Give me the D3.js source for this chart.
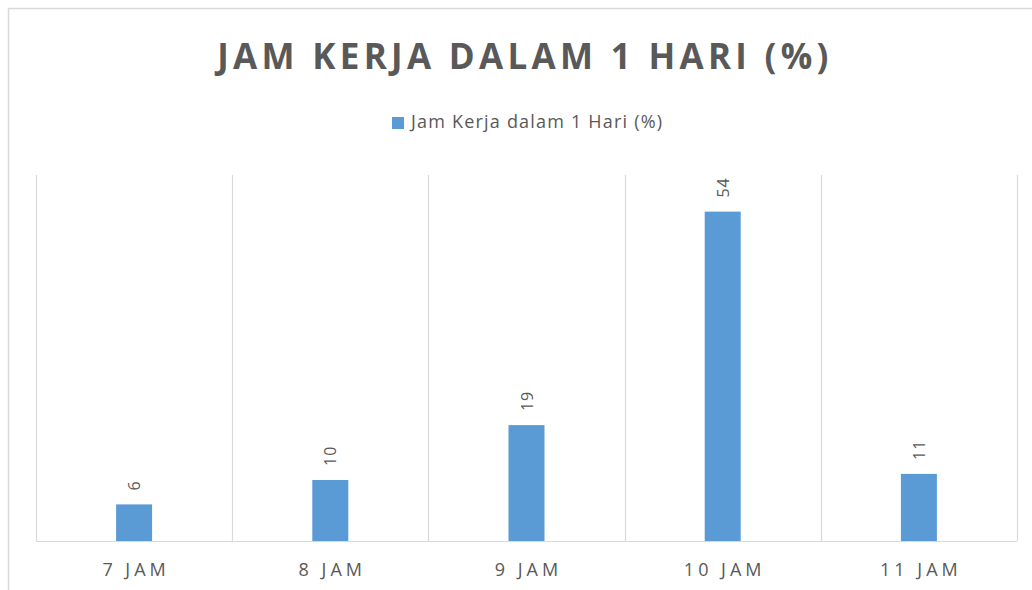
<!DOCTYPE html>
<html>
<head>
<meta charset="utf-8">
<script src="https://cdn.jsdelivr.net/npm/d3@7"></script>
<style>
  body { margin: 0; background: #fff; }
  svg { display: block; }
</style>
</head>
<body>
<div class="chart"></div>
<script>
// data
const categories = ["7 JAM", "8 JAM", "9 JAM", "10 JAM", "11 JAM"];
const values = [6, 10, 19, 54, 11];
const seriesName = "Jam Kerja dalam 1 Hari (%)";
const chartTitle = "JAM KERJA DALAM 1 HARI (%)";

const width = 1032, height = 590;
const margin = { top: 175, right: 15, bottom: 49, left: 36 };

let svg = d3.select(".chart").append("svg")
  .attr("width", width)
  .attr("height", height);

// chart frame (cut off on the right and bottom)
svg.append("rect")
  .attr("x", 8.5).attr("y", 8.5)
  .attr("width", 1040).attr("height", 600)
  .attr("fill", "none")
  .attr("stroke", "#d9d9d9")
  .attr("stroke-width", 1.5);

let x = d3.scaleBand()
  .domain(categories)
  .range([margin.left, width - margin.right]);

let y = d3.scaleLinear()
  .domain([0, 60])
  .range([height - margin.bottom, margin.top]);

// vertical gridlines between categories
let bounds = categories.map(c => x(c)).concat([x.range()[1]]);
svg.append("g")
  .selectAll("line")
  .data(bounds)
  .enter()
  .append("line")
  .attr("x1", d => Math.round(d) + 0.5)
  .attr("x2", d => Math.round(d) + 0.5)
  .attr("y1", y(60))
  .attr("y2", y(0))
  .attr("stroke", "#d9d9d9")
  .attr("stroke-width", 1.2);

// baseline
svg.append("line")
  .attr("x1", x.range()[0]).attr("x2", x.range()[1])
  .attr("y1", y(0) + 0.5).attr("y2", y(0) + 0.5)
  .attr("stroke", "#d9d9d9")
  .attr("stroke-width", 1.2);

// bars
const barW = 36;
svg.append("g")
  .selectAll("rect")
  .data(values)
  .enter()
  .append("rect")
  .attr("x", (d, i) => x(categories[i]) + x.bandwidth() / 2 - barW / 2)
  .attr("y", d => y(d))
  .attr("width", barW)
  .attr("height", d => y(0) - y(d))
  .attr("fill", "#5b9bd5");

// value labels, rotated
svg.append("g")
  .selectAll("text")
  .data(values)
  .enter()
  .append("text")
  .attr("transform", (d, i) => {
    let cx = x(categories[i]) + x.bandwidth() / 2;
    return "translate(" + (cx + 6) + "," + (y(d) - 14) + ") rotate(-90)";
  })
  .attr("font-family", "'Open Sans', sans-serif")
  .attr("font-size", 16)
  .attr("letter-spacing", 1)
  .attr("fill", "#595959")
  .text(d => d);

// x axis labels
svg.append("g")
  .selectAll("text")
  .data(categories)
  .enter()
  .append("text")
  .attr("x", d => x(d) + x.bandwidth() / 2 + 2)
  .attr("y", 576)
  .attr("text-anchor", "middle")
  .attr("font-family", "'Open Sans', sans-serif")
  .attr("font-size", 18)
  .attr("letter-spacing", 4)
  .attr("fill", "#595959")
  .text(d => d);

// title
svg.append("text")
  .attr("x", 525)
  .attr("y", 69)
  .attr("text-anchor", "middle")
  .attr("font-family", "'Open Sans', sans-serif")
  .attr("font-weight", "bold")
  .attr("font-size", 35)
  .attr("letter-spacing", 4.3)
  .attr("fill", "#595959")
  .text(chartTitle);

// legend
let legend = svg.append("g");
legend.append("rect")
  .attr("x", 392).attr("y", 117)
  .attr("width", 12).attr("height", 12)
  .attr("fill", "#5b9bd5");
legend.append("text")
  .attr("x", 411)
  .attr("y", 128)
  .attr("font-family", "'Open Sans', sans-serif")
  .attr("font-size", 18)
  .attr("letter-spacing", 1.2)
  .attr("fill", "#595959")
  .text(seriesName);
</script>
</body>
</html>
